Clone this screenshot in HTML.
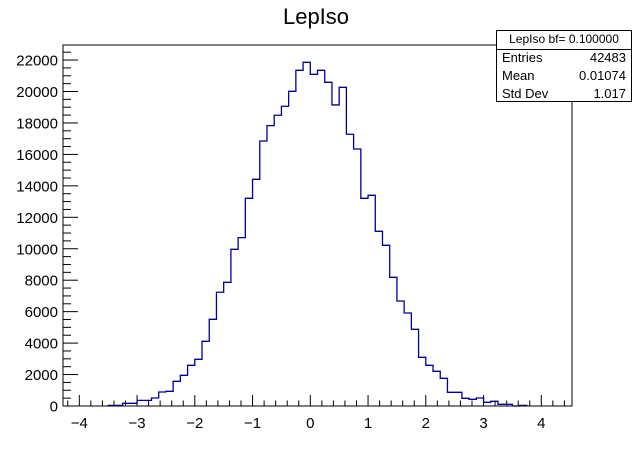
<!DOCTYPE html>
<html><head><meta charset="utf-8"><style>
html,body{margin:0;padding:0;background:#fff;}
svg{display:block;font-family:"Liberation Sans",Arial,sans-serif;}
</style></head><body>
<svg id="chart" width="636" height="452" viewBox="0 0 636 452">
<rect x="0" y="0" width="636" height="452" fill="#fff"/>
<text x="316" y="24" font-size="22" text-anchor="middle">LepIso</text>
<g id="axes"></g>
<path id="hist" fill="none" stroke="#000099" stroke-width="1.3"/>
<rect x="63" y="45" width="509" height="361" fill="none" stroke="#000" stroke-width="1"/>
<g>
<rect x="496.5" y="30.5" width="135" height="71" fill="#fff" stroke="#000" stroke-width="1"/>
<line x1="496.5" y1="49.5" x2="631.5" y2="49.5" stroke="#000"/>
<text x="564" y="43" font-size="12" text-anchor="middle">LepIso bf= 0.100000</text>
<text x="502" y="62" font-size="13">Entries</text>
<text x="626" y="62" font-size="13" text-anchor="end">42483</text>
<text x="502" y="80" font-size="13">Mean</text>
<text x="626" y="80" font-size="13" text-anchor="end">0.01074</text>
<text x="502" y="98" font-size="13">Std Dev</text>
<text x="626" y="98" font-size="13" text-anchor="end">1.017</text>
</g>
</svg>
<script>
const binLow = -3.5;
const binWidth = 0.125;
const counts = [40,40,170,170,360,360,509,890,933,1570,1953,2588,2970,4114,5512,7233,7867,9965,10706,13208,
14416,16854,17828,18488,19060,20013,21348,21857,21094,21348,20585,19144,20267,17280,16345,13208,
13399,11110,10220,8185,6678,5915,4878,3097,2588,2207,1762,871,871,490,426,509,235,299,108,108,0,40];
const xTicks = [-4,-3,-2,-1,0,1,2,3,4];
const yTicks = [0,2000,4000,6000,8000,10000,12000,14000,16000,18000,20000,22000];

const X0=63,X1=572,Y0=406,Y1=45;
function xs(v){return 310.3+v*57.75;}
function ys(v){return 406-v*(31.45/2000);}
const NS="http://www.w3.org/2000/svg";
const ax=document.getElementById('axes');
function ln(x1,y1,x2,y2,name){const l=document.createElementNS(NS,'line');
l.setAttribute('x1',x1);l.setAttribute('y1',y1);l.setAttribute('x2',x2);l.setAttribute('y2',y2);
l.setAttribute('stroke','#000');l.setAttribute('stroke-width','1');


ax.appendChild(l);}
function tx(x,y,s,anchor,name){const t=document.createElementNS(NS,'text');
t.setAttribute('x',x);t.setAttribute('y',y);t.setAttribute('font-size','15');t.setAttribute('text-anchor',anchor);t.textContent=s;


ax.appendChild(t);}
for(let v=-4.2;v<=4.41;v+=0.2){const r=Math.round(v*10)/10;const x=xs(r);if(x<X0||x>X1)continue;
const major=Math.abs(r-Math.round(r))<1e-6;ln(x,Y0,x,Y0-(major?11:5.5),major?'x-major-tick':'x-minor-tick');}
xTicks.forEach(v=>tx(xs(v),428,String(v).replace('-','\u2212'),'middle','x-tick-label'));
for(let v=0;v<=22500;v+=500){const y=ys(v);if(y<Y1)continue;const major=v%2000===0;
ln(X0,y,X0+(major?15:8),y,major?'y-major-tick':'y-minor-tick');}
yTicks.forEach(v=>tx(58,ys(v)+5.5,String(v),'end','y-tick-label'));
let d='M'+xs(binLow)+' '+ys(0);
counts.forEach((c,i)=>{const a=xs(binLow+i*binWidth),b=xs(binLow+(i+1)*binWidth);d+=' L'+a+' '+ys(c)+' L'+b+' '+ys(c);});
d+=' L'+xs(binLow+counts.length*binWidth)+' '+ys(0);
document.getElementById('hist').setAttribute('d',d);
</script>
</body></html>
